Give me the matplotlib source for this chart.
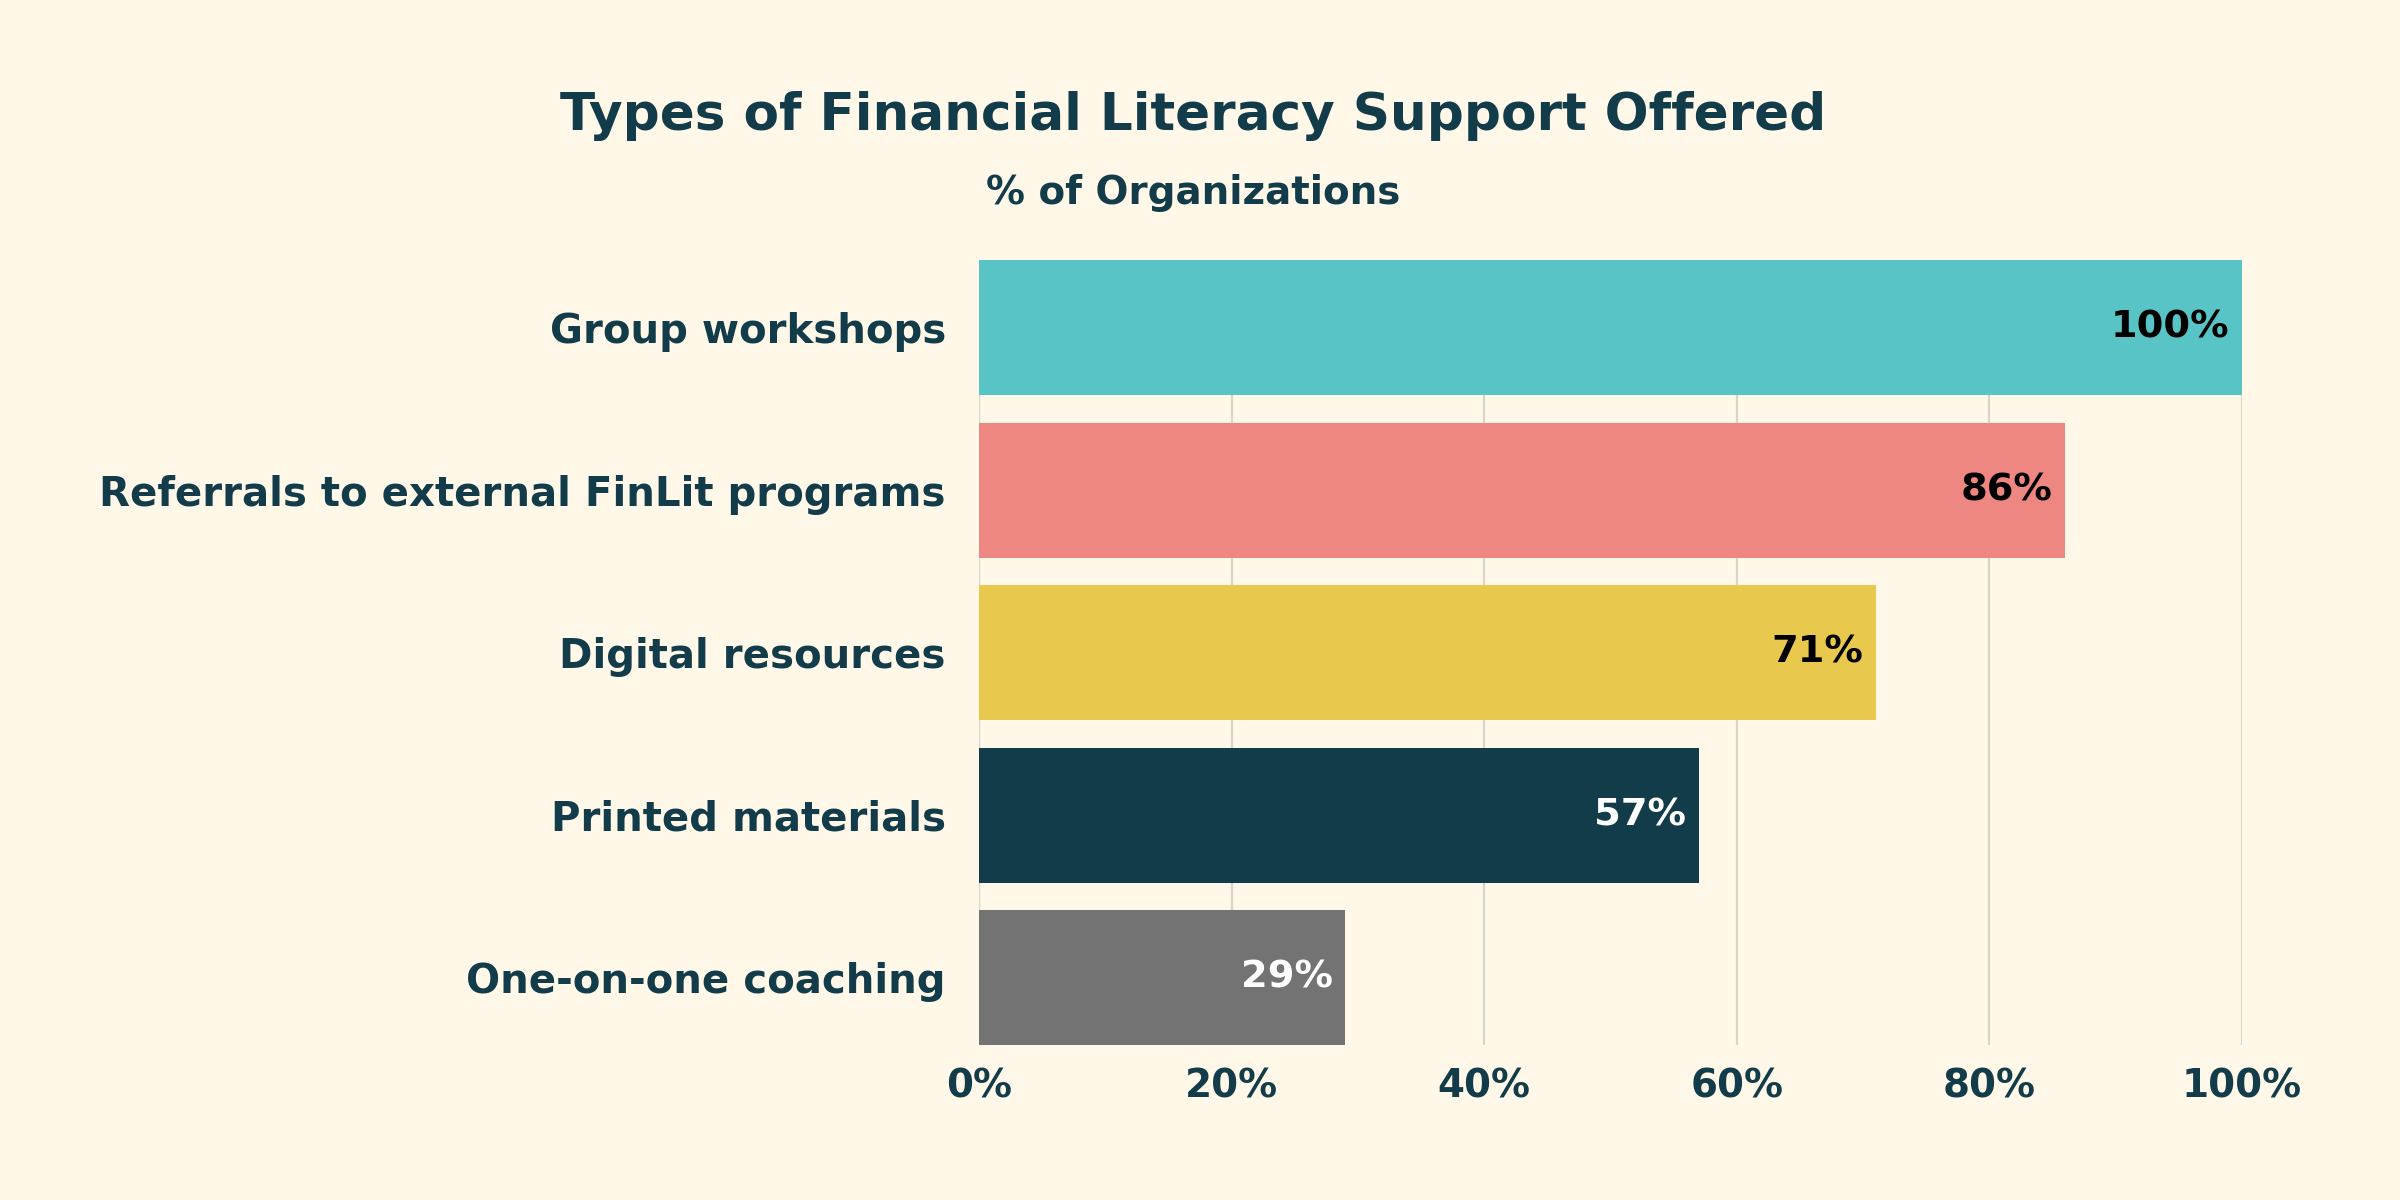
import matplotlib
matplotlib.use("Agg")
import matplotlib.pyplot as plt
from matplotlib.ticker import FuncFormatter

categories = ["Group workshops", "Referrals to external FinLit programs",
              "Digital resources", "Printed materials", "One-on-one coaching"]
values = [100, 86, 71, 57, 29]
bar_colors = ["#58C4C6", "#EE8681", "#E8C84D", "#133C4A", "#737373"]
label_colors = ["#000000", "#000000", "#000000", "#FFFFFF", "#FFFFFF"]
xticks = [0, 20, 40, 60, 80, 100]

BG = "#FFF8E8"
TXT = "#133C4A"
plt.rcParams['font.family'] = ['DejaVu Sans']

fig = plt.figure(figsize=(12, 6), dpi=200, facecolor=BG)
ax = fig.add_axes([0.408, 0.129, 0.526, 0.654], facecolor=BG)

y = list(range(len(categories)))
ax.barh(y, values, height=0.83, color=bar_colors, zorder=2)
ax.set_ylim(len(categories) - 1 + 0.415, -0.415)
ax.set_xlim(0, 100)
ax.set_yticks(y)
ax.set_yticklabels(categories, fontsize=14.5, fontweight='bold', color=TXT)
ax.set_xticks(xticks)
ax.xaxis.set_major_formatter(FuncFormatter(lambda v, p: f"{int(v)}%"))
for t in ax.get_xticklabels():
    t.set_fontsize(14); t.set_fontweight('bold'); t.set_color(TXT)
ax.tick_params(axis='y', length=0, pad=12)
ax.tick_params(axis='x', length=0, pad=8)
ax.grid(axis='x', color='#D6D6CC', linewidth=0.8, zorder=0)
ax.axvline(0, color='#D6D6CC', linewidth=0.8, zorder=1)
for s in ax.spines.values():
    s.set_visible(False)

for yi, v, c in zip(y, values, label_colors):
    ax.text(v - 1.0, yi, f"{v}%", ha='right', va='center', fontsize=13.8,
            fontweight='bold', color=c, zorder=3)

fig.text(0.497, 0.903, "Types of Financial Literacy Support Offered", ha='center',
         va='center', fontsize=18.6, fontweight='bold', color=TXT)
fig.text(0.497, 0.839, "% of Organizations", ha='center', va='center',
         fontsize=14, fontweight='bold', color=TXT)

fig.savefig("out.png", dpi=200, facecolor=BG)
